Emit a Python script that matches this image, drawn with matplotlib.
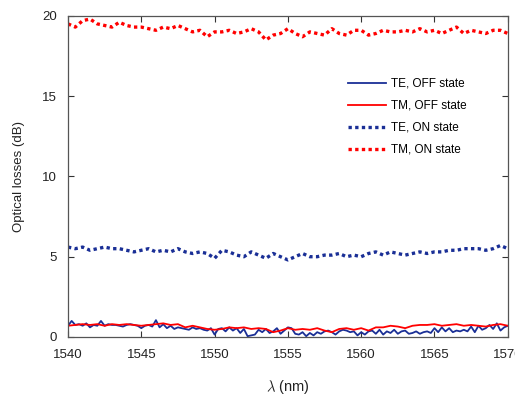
import numpy as np
import matplotlib
matplotlib.use('Agg')
import matplotlib.pyplot as plt

plt.rcParams['font.family'] = ['Liberation Sans', 'DejaVu Sans']
plt.rcParams['mathtext.fontset'] = 'cm'

# wavelength grids (nm)
wl_on = np.arange(1540, 1570.01, 0.5)
wl_off = np.arange(1540, 1570.01, 0.25)

# TM, ON state (dB)
tm_on = [19.5, 19.3, 19.7, 19.8, 19.5, 19.4, 19.3, 19.6, 19.4, 19.3,
         19.3, 19.2, 19.1, 19.3, 19.2, 19.4, 19.2, 19.0, 19.1, 18.7,
         19.0, 19.0, 19.1, 18.9, 19.0, 19.2, 19.0, 18.5, 18.8, 18.9,
         19.2, 18.9, 18.7, 19.0, 18.9, 18.8, 19.2, 18.9, 18.8, 19.1,
         19.1, 18.8, 18.9, 19.1, 19.0, 19.0, 19.1, 19.0, 19.2, 19.0,
         19.1, 18.9, 19.1, 19.3, 18.9, 19.1, 19.0, 18.9, 19.1, 19.1, 18.9]

# TE, ON state (dB)
te_on = [5.6, 5.5, 5.6, 5.4, 5.5, 5.6, 5.5, 5.5, 5.4, 5.3,
         5.4, 5.5, 5.3, 5.4, 5.3, 5.5, 5.3, 5.2, 5.3, 5.2,
         4.9, 5.4, 5.3, 5.1, 5.0, 5.3, 5.1, 4.9, 5.2, 5.0,
         4.8, 5.0, 5.2, 5.0, 5.0, 5.1, 5.1, 5.2, 5.0, 5.1,
         5.0, 5.2, 5.3, 5.1, 5.3, 5.2, 5.1, 5.2, 5.3, 5.2,
         5.3, 5.3, 5.4, 5.4, 5.5, 5.5, 5.5, 5.4, 5.5, 5.7, 5.5]

# TM, OFF state (dB)
tm_off = [0.7, 0.75, 0.8, 0.75, 0.8, 0.7, 0.8, 0.75, 0.8, 0.75,
          0.7, 0.75, 0.8, 0.85, 0.75, 0.8, 0.6, 0.7, 0.6, 0.5,
          0.45, 0.5, 0.6, 0.55, 0.6, 0.5, 0.55, 0.5, 0.3, 0.4,
          0.55, 0.45, 0.5, 0.45, 0.55, 0.4, 0.3, 0.5, 0.55, 0.45,
          0.55, 0.4, 0.6, 0.6, 0.7, 0.65, 0.55, 0.7, 0.75, 0.75,
          0.8, 0.7, 0.75, 0.8, 0.7, 0.75, 0.7, 0.65, 0.75, 0.8, 0.7]

# TE, OFF state (dB)
te_off = [0.7, 1.0, 0.75, 0.8, 0.7, 0.85, 0.6, 0.75, 0.7, 1.0,
          0.7, 0.8, 0.75, 0.75, 0.7, 0.65, 0.75, 0.8, 0.75, 0.7,
          0.55, 0.7, 0.75, 0.65, 1.05, 0.6, 0.8, 0.55, 0.7, 0.5,
          0.6, 0.55, 0.5, 0.45, 0.6, 0.5, 0.55, 0.45, 0.4, 0.55,
          0.15, 0.5, 0.55, 0.35, 0.6, 0.4, 0.55, 0.25, 0.5, 0.05,
          0.1, 0.15, 0.45, 0.3, 0.5, 0.25, 0.35, 0.55, 0.2, 0.4,
          0.6, 0.55, 0.2, 0.15, 0.3, 0.05, 0.25, 0.1, 0.3, 0.2,
          0.35, 0.4, 0.3, 0.15, 0.35, 0.45, 0.4, 0.3, 0.35, 0.1,
          0.3, 0.15, 0.35, 0.4, 0.2, 0.45, 0.15, 0.35, 0.25, 0.45,
          0.2, 0.35, 0.4, 0.2, 0.25, 0.35, 0.2, 0.3, 0.35, 0.25,
          0.55, 0.3, 0.6, 0.35, 0.55, 0.3, 0.4, 0.35, 0.45, 0.35,
          0.65, 0.3, 0.7, 0.45, 0.55, 0.75, 0.5, 0.85, 0.4, 0.6, 0.7]

blue = '#1a2f96'
red = '#ff0000'

fig = plt.figure(figsize=(5.15, 3.96), dpi=100)
ax = fig.add_axes([0.132, 0.149, 0.854, 0.811])

ax.plot(wl_off, te_off, color=blue, lw=1.3, label='TE, OFF state')
ax.plot(wl_on, tm_off, color=red, lw=1.3, label='TM, OFF state')
ax.plot(wl_on, te_on, color=blue, lw=2.4, ls=(0, (1, 1.0)), label='TE, ON state')
ax.plot(wl_on, tm_on, color=red, lw=2.4, ls=(0, (1, 1.0)), label='TM, ON state')

ax.set_xlim(1540, 1570)
ax.set_ylim(0, 20)
ax.set_xticks(range(1540, 1571, 5))
ax.set_yticks([0, 5, 10, 15, 20])
ax.tick_params(direction='in', top=True, right=True, labelsize=9.5, length=4,
               colors='#333333', labelcolor='#222222')
ax.tick_params(axis='x', pad=9)
ax.tick_params(axis='y', pad=8)
for s in ax.spines.values():
    s.set_color('#555555')
    s.set_linewidth(0.9)

ax.set_xlabel(r'$\lambda$ (nm)', fontsize=10.5, labelpad=12, color='#222222')
ax.set_ylabel('Optical losses (dB)', fontsize=9.5, labelpad=12, color='#222222')

ax.legend(loc='upper right', bbox_to_anchor=(0.93, 0.84), frameon=False,
          fontsize=8.5, handlelength=3.2, labelspacing=0.85, handletextpad=0.4)

fig.savefig('out.png', dpi=100)
